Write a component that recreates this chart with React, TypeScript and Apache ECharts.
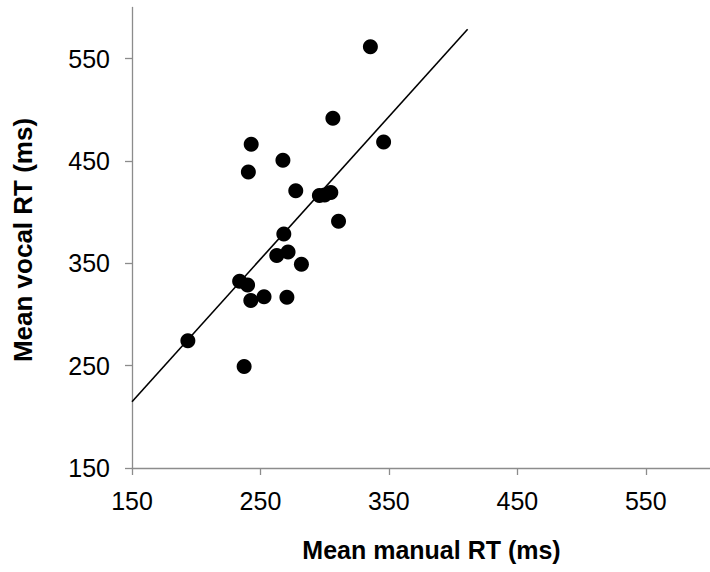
import React, { useEffect, useRef } from "react";
import * as echarts from "echarts";

const manualRT = [335.6, 306.4, 242.8, 345.9, 267.5, 240.6, 277.5, 295.9, 300.0, 304.8, 310.8, 268.2, 262.7, 271.5, 281.9, 233.8, 240.0, 242.5, 252.8, 270.6, 193.5, 237.3];
const vocalRT = [561.6, 491.7, 466.3, 468.5, 450.7, 439.2, 420.9, 416.2, 416.7, 419.2, 391.0, 378.6, 357.6, 361.0, 349.0, 332.5, 328.8, 313.7, 317.4, 316.9, 274.4, 249.2];
const trendX = [150, 411.3];
const trendY = [214.8, 578.6];
const xTicks = [150, 250, 350, 450, 550];
const yTicks = [150, 250, 350, 450, 550];
const xTitle = "Mean manual RT (ms)";
const yTitle = "Mean vocal RT (ms)";

export default function App() {
  const ref = useRef<HTMLDivElement>(null);
  useEffect(() => {
    document.body.style.margin = "0";
    const chart = echarts.init(ref.current!, null, { renderer: "svg" });
    const axisColor = "#8c8c8c";
    const font = "Liberation Sans, Arial, sans-serif";
    chart.setOption({
      animation: false,
      backgroundColor: "#ffffff",
      grid: { left: 132, right: -7, top: 7.4, bottom: 104, containLabel: false },
      xAxis: {
        type: "value",
        min: 150,
        max: 600,
        splitLine: { show: false },
        axisLine: { show: true, lineStyle: { color: axisColor, width: 1.3 } },
        axisTick: { show: true, length: 7, customValues: xTicks, lineStyle: { color: axisColor, width: 1.3 } },
        axisLabel: { customValues: xTicks, color: "#000", fontSize: 25, fontFamily: font, margin: 20 },
      },
      yAxis: {
        type: "value",
        min: 150,
        max: 600,
        splitLine: { show: false },
        axisLine: { show: true, lineStyle: { color: axisColor, width: 1.3 } },
        axisTick: { show: true, length: 7, customValues: yTicks, lineStyle: { color: axisColor, width: 1.3 } },
        axisLabel: { customValues: yTicks, color: "#000", fontSize: 25, fontFamily: font, margin: 22 },
      },
      graphic: [
        {
          type: "text",
          x: 431.5,
          y: 550,
          style: { text: xTitle, fontSize: 25, fontWeight: "bold", fontFamily: font, fill: "#000", textAlign: "center", textVerticalAlign: "middle" },
        },
        {
          type: "text",
          x: 23,
          y: 240,
          rotation: Math.PI / 2,
          style: { text: yTitle, fontSize: 26, fontWeight: "bold", fontFamily: font, fill: "#000", textAlign: "center", textVerticalAlign: "middle" },
        },
      ],
      series: [
        {
          type: "line",
          data: trendX.map((x, i) => [x, trendY[i]]),
          showSymbol: false,
          symbol: "none",
          lineStyle: { color: "#000", width: 1.6 },
          z: 2,
        },
        {
          type: "scatter",
          data: manualRT.map((x, i) => [x, vocalRT[i]]),
          symbol: "circle",
          symbolSize: 15,
          itemStyle: { color: "#000", opacity: 1 },
          z: 3,
        },
      ],
    });
    return () => chart.dispose();
  }, []);
  return <div ref={ref} style={{ width: 710, height: 572 }} />;
}
